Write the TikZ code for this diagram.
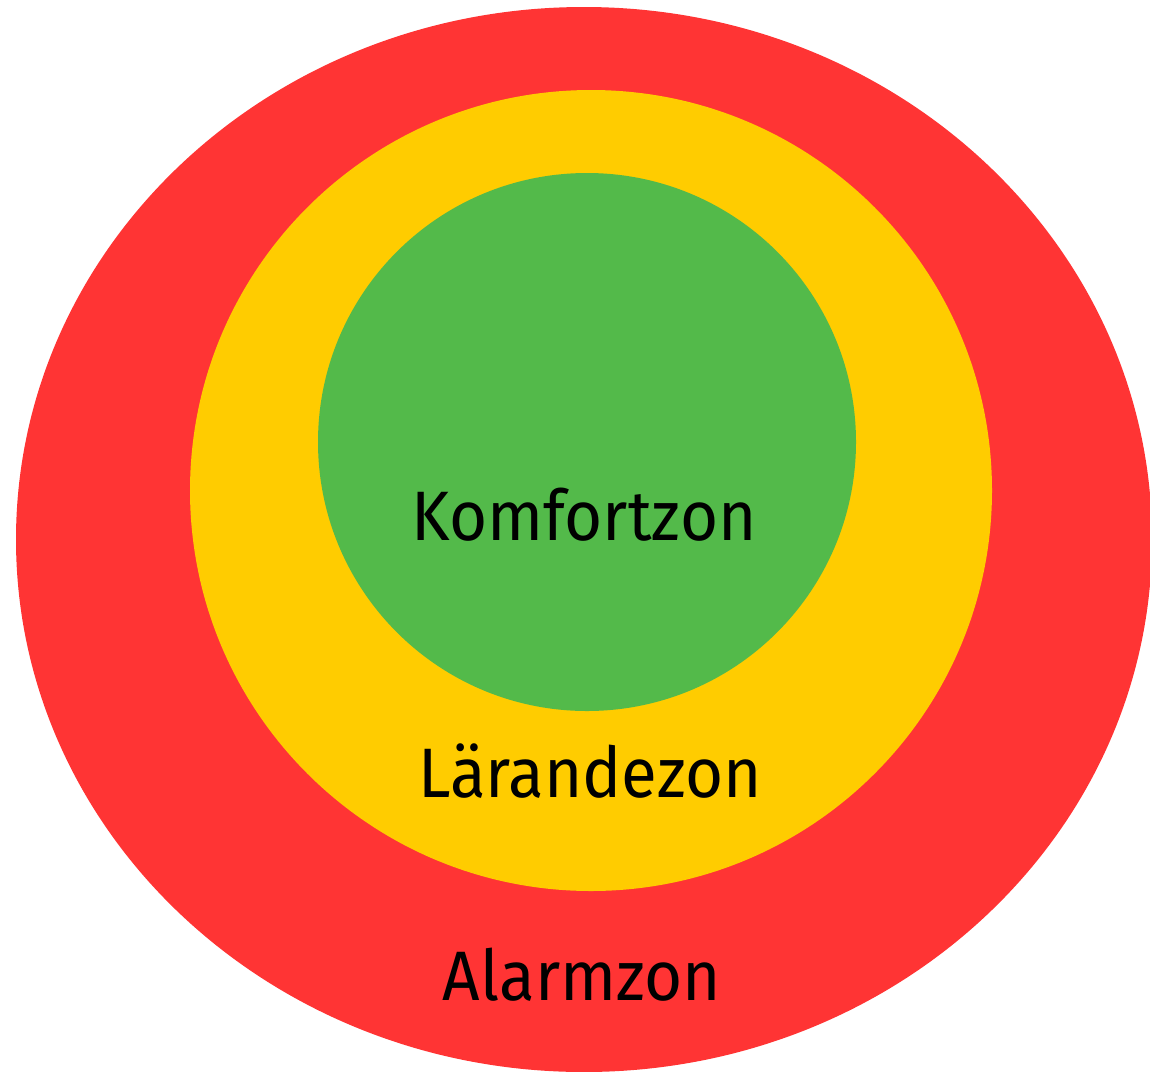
\documentclass[tikz,border=0pt]{standalone}
\usepackage{fontspec}
\setmainfont{Fira Sans}
\definecolor{zred}{HTML}{FF3434}
\definecolor{zyellow}{HTML}{FFCC00}
\definecolor{zgreen}{HTML}{53BA4A}
\newcommand{\zt}[1]{\scalebox{0.935}[1]{#1}}
\begin{document}
\begin{tikzpicture}[x=0.5pt,y=-0.5pt,
  zone/.style={draw=none},
  zlabel/.style={anchor=base,font=\fontsize{35}{40}\selectfont,text=black,inner sep=0pt}]
\useasboundingbox (0,0) rectangle (1150,1071);
\clip (0,0) rectangle (1150,1071);
\fill[white] (0,0) rectangle (1150,1071);
\fill[zone,zred] (584,539.5) ellipse [x radius=568, y radius=532.5];
\fill[zone,zyellow] (591,490.5) ellipse [x radius=401, y radius=400.5];
\fill[zone,zgreen] (587,442) ellipse [x radius=269, y radius=269];
\node[zlabel] (komfort) at (584,540) {\zt{Komfortzon}};
\node[zlabel] (larande) at (590,797) {\zt{Lärandezon}};
\node[zlabel] (alarm) at (582,1000) {\zt{Alarmzon}};
\end{tikzpicture}
\end{document}
